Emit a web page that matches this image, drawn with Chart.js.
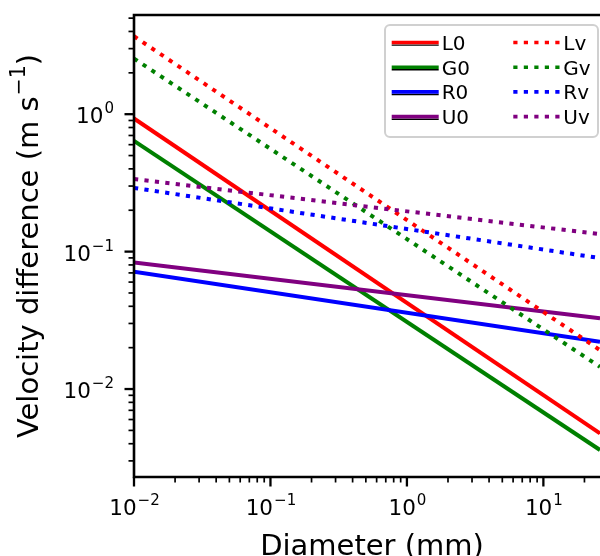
<!DOCTYPE html>
<html>
<head>
<meta charset="utf-8">
<script src="https://cdn.jsdelivr.net/npm/chart.js@4.4.1/dist/chart.umd.min.js"></script>
<style>
    html, body { margin: 0; padding: 0; background: #fff; }
    #wrap { width: 600px; height: 556px; }
</style>
</head>
<body>
<div id="wrap"><canvas id="velocityChart" width="600" height="556"></canvas></div>
<script>
/* ===== DATA ===== */
// diameters (mm) at which each curve is sampled
const diameterEnds = [0.01, 26];

// velocity difference (m/s) at those diameters
const L0 = [0.93, 0.00476];
const G0 = [0.64, 0.0036];
const R0 = [0.0713, 0.0221];
const U0 = [0.0834, 0.0327];
const Lv = [3.69, 0.0192];
const Gv = [2.54, 0.0145];
const Rv = [0.291, 0.0897];
const Uv = [0.337, 0.134];

const seriesNames  = ['L0', 'G0', 'R0', 'U0', 'Lv', 'Gv', 'Rv', 'Uv'];
const seriesValues = [L0, G0, R0, U0, Lv, Gv, Rv, Uv];
const seriesColors = ['#ff0000', '#008000', '#0000ff', '#800080',
                      '#ff0000', '#008000', '#0000ff', '#800080'];
const seriesDotted = [false, false, false, false, true, true, true, true];

// decade exponents that get a 10^n label
const xTickExponents = [-2, -1, 0, 1];
const yTickExponents = [-2, -1, 0];

const xRange = [0.01, 26];
const yRange = [0.00229, 5.27];

/* ===== STYLE ===== */
const FONT = '"DejaVu Sans", sans-serif';
const LINE_W = 4;
const DOT_DASH = [4.2, 6.3];

// "10" followed by a raised exponent
function powParts(exp) {
    return { base: '10', sup: exp < 0 ? '\u2212' + Math.abs(exp) : String(exp) };
}

function drawPow(ctx, exp, x, y, size, align) {
    const p = powParts(exp);
    const supSize = size * 0.7;
    ctx.font = size + 'px ' + FONT;
    const wb = ctx.measureText(p.base).width;
    ctx.font = supSize + 'px ' + FONT;
    const ws = ctx.measureText(p.sup).width;
    let x0 = x;
    if (align === 'right') x0 = x - wb - ws;
    else if (align === 'center') x0 = x - (wb + ws) / 2;
    ctx.textAlign = 'left';
    ctx.textBaseline = 'alphabetic';
    ctx.font = size + 'px ' + FONT;
    ctx.fillText(p.base, x0, y);
    ctx.font = supSize + 'px ' + FONT;
    ctx.fillText(p.sup, x0 + wb + 1, y - size * 0.46);
}

// ===== AXES: spines, log ticks, labels =====
const axisPainter = {
    id: 'axisPainter',
    afterDraw(chart) {
        const ctx = chart.ctx;
        const area = chart.chartArea;
        const xs = chart.scales.x;
        const ys = chart.scales.y;
        ctx.save();
        ctx.fillStyle = '#000';
        ctx.strokeStyle = '#000';

        // spines (right one falls outside the canvas)
        ctx.lineWidth = 2.6;
        ctx.beginPath();
        ctx.moveTo(area.right + 2, area.top);
        ctx.lineTo(area.left, area.top);
        ctx.lineTo(area.left, area.bottom);
        ctx.lineTo(area.right + 2, area.bottom);
        ctx.stroke();

        // tick marks on 1..9 x 10^n
        function logTicks(min, max) {
            const out = [];
            for (let e = Math.floor(Math.log10(min)); e <= Math.ceil(Math.log10(max)); e++) {
                for (let m = 1; m <= 9; m++) {
                    const v = m * Math.pow(10, e);
                    if (v >= min * 0.9999 && v <= max * 1.0001) out.push({ v, major: m === 1 });
                }
            }
            return out;
        }
        logTicks(xRange[0], xRange[1]).forEach(t => {
            const px = xs.getPixelForValue(t.v);
            ctx.lineWidth = t.major ? 2.3 : 1.7;
            ctx.beginPath();
            ctx.moveTo(px, area.bottom);
            ctx.lineTo(px, area.bottom + (t.major ? 9.5 : 5.5));
            ctx.stroke();
        });
        logTicks(yRange[0], yRange[1]).forEach(t => {
            const py = ys.getPixelForValue(t.v);
            ctx.lineWidth = t.major ? 2.3 : 1.7;
            ctx.beginPath();
            ctx.moveTo(area.left, py);
            ctx.lineTo(area.left - (t.major ? 9.5 : 5.5), py);
            ctx.stroke();
        });

        // tick labels
        xTickExponents.forEach(e => {
            drawPow(ctx, e, xs.getPixelForValue(Math.pow(10, e)), area.bottom + 38, 21.5, 'center');
        });
        yTickExponents.forEach(e => {
            drawPow(ctx, e, area.left - 21, ys.getPixelForValue(Math.pow(10, e)) + 9, 21.5, 'right');
        });

        // x title
        ctx.font = '29px ' + FONT;
        ctx.textAlign = 'center';
        ctx.textBaseline = 'alphabetic';
        ctx.fillText('Diameter (mm)', (area.left + area.right) / 2 + 5, area.bottom + 78);

        // y title, rotated, with the s^-1 exponent raised
        const t1 = 'Velocity difference (m s', t2 = '\u22121', t3 = ')';
        const big = 29, small = 20.5;
        ctx.font = big + 'px ' + FONT;
        const w1 = ctx.measureText(t1).width, w3 = ctx.measureText(t3).width;
        ctx.font = small + 'px ' + FONT;
        const w2 = ctx.measureText(t2).width;
        const total = w1 + w2 + w3 + 1;
        ctx.translate(38, (area.top + area.bottom) / 2);
        ctx.rotate(-Math.PI / 2);
        ctx.textAlign = 'left';
        let cx = -total / 2;
        ctx.font = big + 'px ' + FONT;
        ctx.fillText(t1, cx, 0);
        cx += w1 + 1;
        ctx.font = small + 'px ' + FONT;
        ctx.fillText(t2, cx, -13);
        cx += w2;
        ctx.font = big + 'px ' + FONT;
        ctx.fillText(t3, cx, 0);
        ctx.restore();
    }
};

// ===== LEGEND: two columns, solid on the left, dotted on the right =====
const legendPainter = {
    id: 'legendPainter',
    afterDraw(chart) {
        const ctx = chart.ctx;
        const area = chart.chartArea;
        const boxW = 213, boxH = 112;
        const bx = area.right - 2 - boxW, by = area.top + 10;
        ctx.save();
        ctx.beginPath();
        ctx.roundRect(bx, by, boxW, boxH, 5);
        ctx.fillStyle = 'rgba(255,255,255,0.85)';
        ctx.fill();
        ctx.strokeStyle = '#d0d0d0';
        ctx.lineWidth = 2;
        ctx.stroke();

        const rowGap = 24.7, handleLen = 47;
        const colX = [bx + 6.7, bx + 128.3];
        ctx.font = '20px ' + FONT;
        ctx.textAlign = 'left';
        ctx.textBaseline = 'alphabetic';
        seriesNames.forEach((name, i) => {
            const col = seriesDotted[i] ? 1 : 0;
            const row = i % 4;
            const hx = colX[col];
            const hy = by + 17.7 + row * rowGap;
            ctx.lineCap = 'butt';
            if (!seriesDotted[i]) {
                ctx.setLineDash([]);
                ctx.strokeStyle = '#000';
                ctx.lineWidth = 1.4;
                ctx.beginPath();
                ctx.moveTo(hx, hy + 2.4);
                ctx.lineTo(hx + handleLen, hy + 2.4);
                ctx.stroke();
            } else {
                ctx.setLineDash(DOT_DASH);
            }
            ctx.strokeStyle = seriesColors[i];
            ctx.lineWidth = 3.6;
            ctx.beginPath();
            ctx.moveTo(hx, hy - 0.2);
            ctx.lineTo(hx + handleLen, hy - 0.2);
            ctx.stroke();
            ctx.setLineDash([]);
            ctx.fillStyle = '#000';
            ctx.fillText(name, hx + 50, hy + 7.2);
        });
        ctx.restore();
    }
};

// ===== CHART =====
function initVelocityChart() {
    const canvas = document.getElementById('velocityChart');
    const n = seriesNames.length;
    const datasets = seriesNames.map((name, i) => ({
        label: name,
        data: diameterEnds.map((d, k) => ({ x: d, y: seriesValues[i][k] })),
        borderColor: seriesColors[i],
        backgroundColor: seriesColors[i],
        borderWidth: LINE_W,
        borderDash: seriesDotted[i] ? DOT_DASH : [],
        borderCapStyle: 'butt',
        pointRadius: 0,
        fill: false,
        tension: 0,
        // later series sit on top
        order: n - i
    }));

    return new Chart(canvas.getContext('2d'), {
        type: 'line',
        data: { datasets: datasets },
        options: {
            responsive: false,
            animation: false,
            layout: { padding: { top: 15, right: 0, bottom: 0, left: 0 } },
            plugins: {
                legend: { display: false },
                tooltip: { enabled: false }
            },
            scales: {
                x: {
                    type: 'logarithmic',
                    min: xRange[0],
                    max: xRange[1],
                    ticks: { display: false },
                    grid: { display: false },
                    border: { display: false },
                    afterFit: function(scale) { scale.height = 79; }
                },
                y: {
                    type: 'logarithmic',
                    min: yRange[0],
                    max: yRange[1],
                    ticks: { display: false },
                    grid: { display: false },
                    border: { display: false },
                    afterFit: function(scale) { scale.width = 134; }
                }
            }
        },
        plugins: [axisPainter, legendPainter]
    });
}

initVelocityChart();
</script>
</body>
</html>
